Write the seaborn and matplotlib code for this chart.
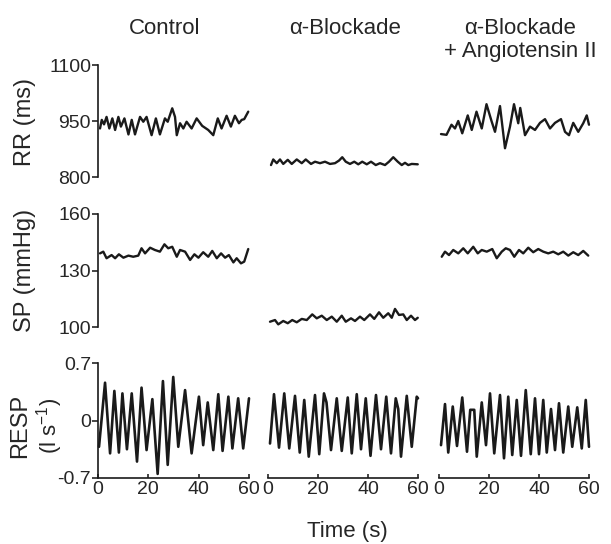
import matplotlib
matplotlib.use("Agg")
import matplotlib.pyplot as plt
import seaborn as sns

# --- data (time in s) ---
conditions = ["Control", "α-Blockade", "α-Blockade\n+ Angiotensin II"]

rr_ctrl_t = [0.8, 1.5, 2.4, 3.4, 4.5, 5.7, 6.8, 8.1, 9.1, 10.5, 12.1, 13.4, 14.7, 16.7, 18.0, 19.3,
             21.3, 23.0, 24.6, 26.6, 27.7, 29.5, 30.6, 31.3, 32.6, 33.9, 35.2, 37.2, 39.2, 41.4,
             43.8, 45.8, 47.6, 49.1, 51.1, 52.8, 54.4, 56.0, 57.1, 58.1, 59.7]
rr_ctrl = [930, 953, 941, 961, 930, 957, 926, 961, 935, 957, 914, 953, 914, 961, 948, 961,
           912, 957, 914, 957, 948, 984, 961, 912, 944, 930, 948, 930, 957, 937,
           926, 912, 957, 930, 964, 935, 964, 944, 953, 955, 975]

rr_ab_t = [1.2, 2.1, 3.5, 4.8, 6.1, 7.9, 9.5, 11.5, 13.5, 15.1, 17.2, 18.8, 20.8, 22.8, 24.8,
           26.8, 28.4, 29.7, 31.1, 32.8, 34.5, 36.1, 37.7, 39.5, 41.2, 43.1, 44.8, 46.8, 48.4,
           50.1, 51.9, 53.5, 54.8, 56.1, 57.5, 59.9]
rr_ab = [832, 847, 837, 847, 835, 846, 835, 847, 837, 847, 835, 841, 837, 841, 835,
         837, 844, 853, 841, 835, 841, 834, 841, 834, 841, 832, 837, 832, 841,
         853, 841, 832, 838, 832, 835, 834]

rr_ang_t = [0.8, 3.0, 5.0, 6.4, 7.7, 9.3, 11.5, 13.1, 15.0, 17.1, 19.0, 21.0, 22.4, 24.4, 26.4,
            28.4, 30.0, 31.7, 32.5, 34.4, 36.4, 38.4, 40.4, 42.4, 44.4, 46.4, 48.8, 50.4, 52.0,
            53.7, 55.7, 57.7, 59.1, 60.0]
rr_ang = [915, 913, 940, 930, 950, 917, 965, 926, 975, 930, 995, 950, 921, 990, 877,
          935, 995, 944, 985, 912, 935, 926, 945, 955, 930, 945, 955, 921, 912,
          945, 921, 944, 965, 940]

sp_ctrl_t = [0.8, 2.1, 3.4, 5.4, 6.8, 8.3, 10.1, 12.1, 14.0, 16.0, 17.3, 18.7, 20.7, 22.6, 24.6,
             26.4, 27.9, 29.5, 31.3, 32.6, 34.6, 36.6, 38.3, 39.9, 41.8, 43.8, 45.4, 47.2, 48.9,
             50.5, 52.0, 53.8, 55.1, 56.8, 58.1, 59.7]
sp_ctrl = [139.1, 140.0, 136.5, 138.2, 136.5, 138.6, 136.8, 137.9, 137.3, 137.9, 141.8, 139.1,
           142.1, 140.9, 140.0, 143.9, 141.8, 142.6, 137.3, 140.9, 140.0, 135.6, 138.6, 136.8,
           139.7, 137.3, 140.4, 136.5, 139.1, 136.8, 138.2, 134.3, 136.5, 133.8, 134.7, 141.4]

sp_ab_t = [0.8, 2.8, 4.1, 6.1, 7.9, 9.7, 11.5, 13.5, 15.5, 17.7, 19.5, 21.5, 23.5, 25.5, 27.5,
           29.5, 31.1, 33.2, 34.8, 36.8, 38.5, 40.8, 42.5, 44.4, 46.1, 48.1, 49.5, 50.8, 52.4,
           54.1, 55.5, 57.2, 58.8, 59.9]
sp_ab = [102.8, 103.7, 101.4, 103.2, 102.0, 103.7, 102.5, 104.3, 103.7, 106.7, 104.6, 106.0,
         103.7, 105.5, 102.8, 106.0, 102.8, 104.6, 103.2, 105.5, 103.7, 106.7, 104.3, 107.8,
         104.9, 107.3, 104.9, 109.6, 106.4, 106.7, 103.7, 106.0, 103.7, 104.9]

sp_ang_t = [1.1, 2.4, 4.0, 5.7, 7.7, 9.7, 11.5, 13.7, 15.5, 17.1, 19.1, 21.3, 23.1, 25.1, 26.7,
            28.4, 30.1, 32.0, 33.7, 35.7, 37.7, 39.7, 41.7, 43.7, 45.7, 47.7, 49.7, 51.7, 53.7,
            55.7, 57.7, 59.7]
sp_ang = [137.3, 140.0, 138.2, 140.9, 139.1, 141.8, 139.1, 142.6, 139.1, 140.9, 140.0, 141.4,
          136.5, 140.0, 141.8, 140.9, 137.3, 140.9, 139.1, 142.1, 139.7, 141.4, 140.0, 139.1,
          140.0, 138.6, 140.0, 137.9, 139.7, 138.2, 140.4, 137.9]

resp_ctrl_t = [0.4, 2.8, 4.8, 6.5, 8.3, 9.7, 11.5, 13.4, 15.5, 17.3, 19.3, 21.6, 23.7, 25.8, 27.7,
               29.9, 31.9, 34.6, 37.2, 40.1, 41.8, 43.6, 45.8, 47.8, 49.5, 51.8, 53.4, 55.7,
               57.7, 60.0]
resp_ctrl = [-0.32, 0.46, -0.40, 0.36, -0.39, 0.33, -0.35, 0.33, -0.50, 0.40, -0.36, 0.26,
             -0.65, 0.48, -0.54, 0.53, -0.32, 0.37, -0.40, 0.29, -0.30, 0.22, -0.36, 0.32,
             -0.37, 0.29, -0.34, 0.27, -0.34, 0.27]

resp_ab_t = [0.8, 2.4, 4.4, 6.5, 8.5, 10.8, 12.7, 14.5, 16.3, 18.8, 20.5, 22.4, 23.4, 25.2, 27.5,
             29.5, 31.9, 33.5, 35.5, 37.2, 39.1, 41.0, 43.2, 45.2, 47.3, 49.2, 51.1, 52.1,
             53.2, 55.5, 57.5, 59.5, 60.0]
resp_ab = [-0.28, 0.32, -0.33, 0.33, -0.34, 0.30, -0.39, 0.25, -0.44, 0.31, -0.41, 0.33, 0.22,
           -0.36, 0.27, -0.37, 0.28, -0.40, 0.32, -0.35, 0.27, -0.43, 0.31, -0.35, 0.29,
           -0.40, 0.27, 0.14, -0.44, 0.30, -0.32, 0.29, 0.27]

resp_ang_t = [0.8, 2.4, 3.7, 5.5, 7.2, 9.3, 11.2, 12.5, 14.1, 15.1, 17.1, 18.8, 20.4, 22.1, 24.4,
              26.0, 27.7, 29.3, 31.1, 32.8, 34.7, 36.7, 38.4, 40.0, 41.7, 43.1, 44.8, 46.4,
              48.0, 49.7, 51.7, 53.3, 55.3, 57.1, 58.7, 60.0]
resp_ang = [-0.30, 0.20, -0.39, 0.17, -0.31, 0.28, -0.38, 0.13, 0.13, -0.44, 0.22, -0.30, 0.33,
            -0.40, 0.31, -0.46, 0.29, -0.42, 0.25, -0.43, 0.37, -0.41, 0.27, -0.41, 0.25,
            -0.39, 0.14, -0.36, 0.21, -0.39, 0.17, -0.32, 0.16, -0.34, 0.25, -0.32]

rows = [
    [(rr_ctrl_t, rr_ctrl), (rr_ab_t, rr_ab), (rr_ang_t, rr_ang)],
    [(sp_ctrl_t, sp_ctrl), (sp_ab_t, sp_ab), (sp_ang_t, sp_ang)],
    [(resp_ctrl_t, resp_ctrl), (resp_ab_t, resp_ab), (resp_ang_t, resp_ang)],
]
row_lims = [(800, 1100), (100, 160), (-0.7, 0.7)]
row_ticks = [[800, 950, 1100], [100, 130, 160], [-0.7, 0, 0.7]]
row_ticklabels = [["800", "950", "1100"], ["100", "130", "160"], ["-0.7", "0", "0.7"]]
time_ticks = [0, 20, 40, 60]
time_ticklabels = ["0", "20", "40", "60"]

sns.set_style("ticks")
plt.rcParams["font.family"] = ["Liberation Sans", "DejaVu Sans"]
plt.rcParams["mathtext.fontset"] = "custom"
plt.rcParams["mathtext.rm"] = "Liberation Sans"
plt.rcParams["mathtext.default"] = "regular"

fig = plt.figure(figsize=(6.11, 5.44), dpi=100)
W, H = 611, 544
col_x = [(98, 151), (268, 150), (439, 150)]
row_y = [(65, 177), (214, 327), (363, 478)]

for r in range(3):
    for c in range(3):
        x0, w = col_x[c]
        top, bot = row_y[r]
        ax = fig.add_axes([x0 / W, 1 - bot / H, w / W, (bot - top) / H])
        t, v = rows[r][c]
        sns.lineplot(x=t, y=v, ax=ax, color="#1a1a1a", lw=1.9 if r == 2 else 1.7)
        for ln in ax.lines:
            ln.set_clip_on(False)
            ln.set_solid_joinstyle("round")
        ax.set_xlim(0, 60)
        ax.set_ylim(*row_lims[r])
        ax.set_xlabel("")
        ax.set_ylabel("")
        for s in ["top", "right"]:
            ax.spines[s].set_visible(False)
        for s in ["left", "bottom"]:
            ax.spines[s].set_linewidth(1.2)
            ax.spines[s].set_color("#1a1a1a")
        if c == 0:
            ax.set_yticks(row_ticks[r])
            ax.set_yticklabels(row_ticklabels[r], fontsize=14)
            ax.tick_params(axis="y", direction="out", length=4, width=1.2, pad=1)
        else:
            ax.spines["left"].set_visible(False)
            ax.set_yticks([])
        if r == 2:
            ax.set_xticks(time_ticks)
            ax.set_xticklabels(time_ticklabels, fontsize=14)
            ax.tick_params(axis="x", direction="in", length=3, width=1.2, pad=2)
        else:
            ax.spines["bottom"].set_visible(False)
            ax.set_xticks([])

# column titles
fig.text(165 / W, 1 - 28 / H, conditions[0], fontsize=16, ha="center", va="center")
fig.text(345 / W, 1 - 28 / H, conditions[1], fontsize=16, ha="center", va="center")
fig.text(520 / W, 1 - 40 / H, conditions[2], fontsize=16, ha="center", va="center",
         linespacing=1.15)

# row labels
fig.text(25 / W, 1 - 122 / H, "RR (ms)", fontsize=17, rotation=90, ha="center", va="center")
fig.text(25 / W, 1 - 270 / H, "SP (mmHg)", fontsize=17, rotation=90, ha="center", va="center")
fig.text(20 / W, 1 - 426 / H, "RESP", fontsize=17, rotation=90, ha="center", va="center")
fig.text(50 / W, 1 - 426 / H, "(l s$^{-1}$)", fontsize=16, rotation=90, ha="center", va="center")

fig.text(347 / W, 1 - 532 / H, "Time (s)", fontsize=16, ha="center", va="center")

fig.savefig("out.png", dpi=100)
